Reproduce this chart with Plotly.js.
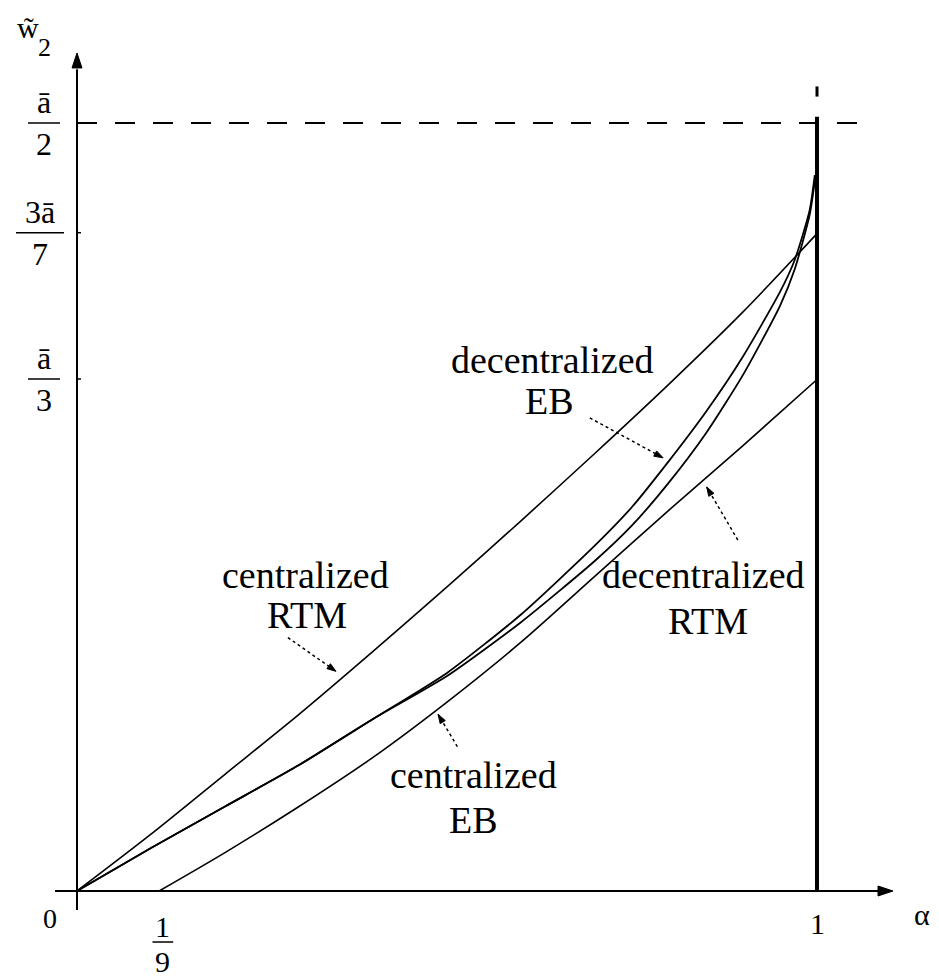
<!DOCTYPE html>
<html>
<head>
<meta charset="utf-8">
<script src="https://cdn.plot.ly/plotly-3.0.1.min.js"></script>
<style>html,body{margin:0;padding:0;background:#fff;}#chart{width:939px;height:980px;}</style>
</head>
<body>
<div id="chart"></div>
<script>
// ---- data (alpha on x, w2 in units of a-bar on y) ----
const centralizedRTM_x = [0, 0.1, 0.2, 0.3, 0.4, 0.5, 0.6, 0.7, 0.8, 0.9, 1];
const centralizedRTM_y = [0, 0.037, 0.076, 0.115, 0.156, 0.198, 0.241, 0.285, 0.330, 0.377, 0.428];

const centralizedEB_x = [0.111, 0.2, 0.3, 0.4, 0.5, 0.6, 0.7, 0.8, 0.9, 1];
const centralizedEB_y = [0, 0.025, 0.055, 0.087, 0.123, 0.162, 0.205, 0.248, 0.290, 0.333];

const decentral_x = [0, 0.1, 0.2, 0.3, 0.4, 0.5, 0.6, 0.7, 0.75, 0.8, 0.85, 0.9, 0.95, 0.97, 0.99, 0.997];
const decentralizedEB_y = [0, 0.028, 0.055, 0.082, 0.112, 0.142, 0.180, 0.225, 0.250, 0.280, 0.312, 0.348, 0.390, 0.411, 0.443, 0.466];
const decentralizedRTM_y = [0, 0.028, 0.055, 0.082, 0.112, 0.140, 0.175, 0.215, 0.238, 0.266, 0.298, 0.336, 0.381, 0.405, 0.440, 0.462];

const yTickVals = [1/2, 3/7, 1/3];
const yTickNum = ['ā', '3ā', 'ā'];
const yTickDen = ['2', '7', '3'];

const xTickVals = [0, 1/9, 1];
const xTickLabels = ['0', '1/9', '1'];

const FONT = 'Liberation Serif, Times New Roman, serif';
const BLK = '#000';

// pixel scale of the axes (plot area = whole canvas)
const X0PX = 77, X1PX = 817, Y0PX = 891, YHALFPX = 123;
const W = 939, H = 980;
const pxPerX = X1PX - X0PX;               // 740
const pxPerY = (Y0PX - YHALFPX) / 0.5;    // 1536

const traces = [
  {x: centralizedRTM_x, y: centralizedRTM_y, mode: 'lines', line: {color: BLK, width: 1.6, shape: 'spline', smoothing: 0.8}, name: 'centralized RTM'},
  {x: centralizedEB_x, y: centralizedEB_y, mode: 'lines', line: {color: BLK, width: 1.6, shape: 'spline', smoothing: 0.8}, name: 'centralized EB'},
  {x: decentral_x, y: decentralizedEB_y, mode: 'lines', line: {color: BLK, width: 1.8, shape: 'spline', smoothing: 0.6}, name: 'decentralized EB'},
  {x: decentral_x, y: decentralizedRTM_y, mode: 'lines', line: {color: BLK, width: 1.8, shape: 'spline', smoothing: 0.6}, name: 'decentralized RTM'}
];

const shapes = [];
const annotations = [];

function arrowHead(xa, ya, ux, uy, len, wid) {
  // ux, uy: unit direction in pixels (y up)
  const nx = -uy, ny = ux;
  const bx = -ux * len, by = -uy * len;
  const p = (a, b) => a.toFixed(2) + ',' + b.toFixed(2);
  shapes.push({type: 'path', xref: 'x', yref: 'y', xsizemode: 'pixel', ysizemode: 'pixel', xanchor: xa, yanchor: ya,
    path: 'M0,0 L' + p(bx + nx * wid / 2, by + ny * wid / 2) + ' L' + p(bx - nx * wid / 2, by - ny * wid / 2) + ' Z',
    fillcolor: BLK, line: {color: BLK, width: 1}});
}

// axes
shapes.push({type: 'line', xref: 'x', yref: 'y', x0: -0.0297, x1: 1.09, y0: 0, y1: 0, line: {color: BLK, width: 2}});
shapes.push({type: 'line', xref: 'x', yref: 'y', x0: 0, x1: 0, y0: -0.0124, y1: 0.535, line: {color: BLK, width: 2}});
arrowHead(1.1027, 0, 1, 0, 15, 10);
arrowHead(0, 0.5456, 0, 1, 15, 10);

// horizontal dashed line at a/2 and vertical line at alpha = 1
shapes.push({type: 'line', xref: 'x', yref: 'y', x0: 0, x1: 1.062, y0: yTickVals[0], y1: yTickVals[0], line: {color: BLK, width: 2, dash: '20px,18px'}});
shapes.push({type: 'line', xref: 'x', yref: 'y', x0: xTickVals[2], x1: xTickVals[2], y0: 0, y1: 0.504, line: {color: BLK, width: 4}});
shapes.push({type: 'line', xref: 'x', yref: 'y', x0: xTickVals[2], x1: xTickVals[2], y0: 0.5172, y1: 0.5238, line: {color: BLK, width: 3}});

// y tick labels as fractions
yTickVals.forEach((v, i) => {
  if (i > 0) {
    shapes.push({type: 'line', xref: 'x', yref: 'y', xsizemode: 'pixel', xanchor: 0, x0: 0, x1: 4, y0: v, y1: v, line: {color: BLK, width: 1.5}});
  }
  const wide = yTickNum[i].length > 1;
  shapes.push({type: 'line', xref: 'x', yref: 'y', xsizemode: 'pixel', xanchor: 0,
    x0: wide ? -61 : -49, x1: wide ? -13 : -17, y0: v, y1: v, line: {color: BLK, width: 1.5}});
  annotations.push({x: 0, y: v, xref: 'x', yref: 'y', xshift: wide ? -37 : -33, yshift: 21, text: yTickNum[i], showarrow: false,
    font: {family: FONT, size: 32, color: BLK}});
  annotations.push({x: 0, y: v, xref: 'x', yref: 'y', xshift: wide ? -37 : -33, yshift: -21, text: yTickDen[i], showarrow: false,
    font: {family: FONT, size: 32, color: BLK}});
});

// x tick labels
annotations.push({x: xTickVals[0], y: 0, xref: 'x', yref: 'y', xshift: -27, yshift: -27, text: xTickLabels[0], showarrow: false, font: {family: FONT, size: 28, color: BLK}});
const ninth = xTickLabels[1].split('/');
annotations.push({x: xTickVals[1], y: 0, xref: 'x', yref: 'y', xshift: 3, yshift: -35, text: ninth[0], showarrow: false, font: {family: FONT, size: 30, color: BLK}});
annotations.push({x: xTickVals[1], y: 0, xref: 'x', yref: 'y', xshift: 3, yshift: -70, text: ninth[1], showarrow: false, font: {family: FONT, size: 30, color: BLK}});
shapes.push({type: 'line', xref: 'x', yref: 'y', ysizemode: 'pixel', yanchor: 0, x0: 0.102, x1: 0.130, y0: -51, y1: -51, line: {color: BLK, width: 1.5}});
annotations.push({x: xTickVals[2], y: 0, xref: 'x', yref: 'y', xshift: 0, yshift: -32, text: xTickLabels[2], showarrow: false, font: {family: FONT, size: 30, color: BLK}});

// axis titles
annotations.push({x: 1, y: 0, xref: 'x', yref: 'y', xshift: 105, yshift: -23, text: 'α', showarrow: false, font: {family: FONT, size: 30, color: BLK}});
annotations.push({x: 0, y: 0.5456, xref: 'x', yref: 'y', xshift: -49, yshift: 25, xanchor: 'center', yanchor: 'middle',
  text: 'w̃', showarrow: false, font: {family: FONT, size: 30, color: BLK}});
annotations.push({x: 0, y: 0.5456, xref: 'x', yref: 'y', xshift: -33, yshift: 5, xanchor: 'center', yanchor: 'middle',
  text: '2', showarrow: false, font: {family: FONT, size: 26, color: BLK}});

// curve labels
const LBL = {family: FONT, size: 38, color: BLK};
function label(x, y, t) { annotations.push({x: x, y: y, xref: 'x', yref: 'y', text: t, showarrow: false, font: LBL}); }
label(0.309, 0.206, 'centralized'); label(0.311, 0.180, 'RTM');
label(0.643, 0.346, 'decentralized'); label(0.639, 0.319, 'EB');
label(0.536, 0.0755, 'centralized'); label(0.536, 0.046, 'EB');
label(0.847, 0.206, 'decentralized'); label(0.853, 0.176, 'RTM');

// dotted pointer arrows: [tailX, tailY, tipX, tipY]
const pointers = [
  [0.285, 0.165, 0.350, 0.143],
  [0.693, 0.308, 0.792, 0.282],
  [0.514, 0.094, 0.488, 0.115],
  [0.893, 0.2285, 0.851, 0.263]
];
pointers.forEach(p => {
  shapes.push({type: 'line', xref: 'x', yref: 'y', x0: p[0], y0: p[1], x1: p[2], y1: p[3], line: {color: BLK, width: 1.5, dash: 'dot'}});
  const dxp = (p[2] - p[0]) * pxPerX, dyp = (p[3] - p[1]) * pxPerY;
  const L = Math.sqrt(dxp * dxp + dyp * dyp);
  arrowHead(p[2], p[3], dxp / L, dyp / L, 9, 6);
});

const layout = {
  width: W, height: H,
  margin: {l: 0, r: 0, t: 0, b: 0, pad: 0},
  paper_bgcolor: '#fff', plot_bgcolor: '#fff',
  showlegend: false,
  xaxis: {range: [-X0PX / pxPerX, (W - X0PX) / pxPerX], visible: false, fixedrange: true},
  yaxis: {range: [-(H - Y0PX) / pxPerY, Y0PX / pxPerY], visible: false, fixedrange: true},
  shapes: shapes,
  annotations: annotations
};

Plotly.newPlot('chart', traces, layout, {displayModeBar: false, staticPlot: true});
</script>
</body>
</html>
